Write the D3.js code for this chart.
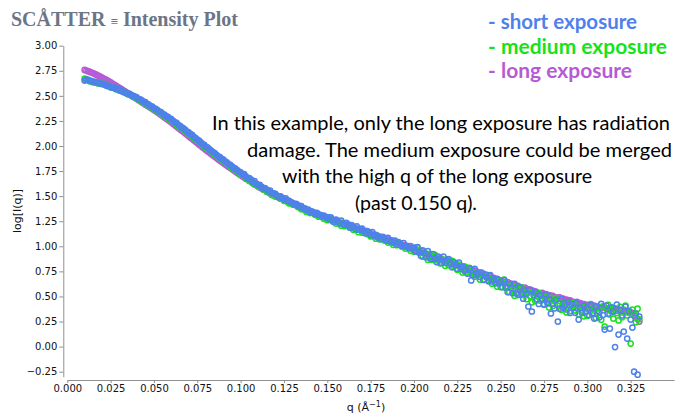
<!DOCTYPE html>
<html><head><meta charset="utf-8">
<script src="https://cdn.jsdelivr.net/npm/d3@7"></script>
<style>body{margin:0;background:#fff}</style>
</head><body>
<svg id="chart" width="680" height="420"></svg>
<script>
const qValues = [
0.010,0.011,0.012,0.013,0.014,0.015,0.016,0.017,0.018,0.019,
0.020,0.021,0.022,0.023,0.024,0.025,0.026,0.027,0.028,0.029,
0.030,0.031,0.032,0.033,0.034,0.035,0.036,0.037,0.038,0.039,
0.040,0.041,0.042,0.043,0.044,0.045,0.046,0.047,0.048,0.049,
0.050,0.051,0.052,0.053,0.054,0.055,0.056,0.057,0.058,0.059,
0.060,0.061,0.062,0.063,0.064,0.065,0.066,0.067,0.068,0.069,
0.070,0.071,0.072,0.073,0.074,0.075,0.076,0.077,0.078,0.079,
0.080,0.081,0.082,0.083,0.084,0.085,0.086,0.087,0.088,0.089,
0.090,0.091,0.092,0.093,0.094,0.095,0.096,0.097,0.098,0.099,
0.100,0.101,0.102,0.103,0.104,0.105,0.106,0.107,0.108,0.109,
0.110,0.111,0.112,0.113,0.114,0.115,0.116,0.117,0.118,0.119,
0.120,0.121,0.122,0.123,0.124,0.125,0.126,0.127,0.128,0.129,
0.130,0.131,0.132,0.133,0.134,0.135,0.136,0.137,0.138,0.139,
0.140,0.141,0.142,0.143,0.144,0.145,0.146,0.147,0.148,0.149,
0.150,0.151,0.152,0.153,0.154,0.155,0.156,0.157,0.158,0.159,
0.160,0.161,0.162,0.163,0.164,0.165,0.166,0.167,0.168,0.169,
0.170,0.171,0.172,0.173,0.174,0.175,0.176,0.177,0.178,0.179,
0.180,0.181,0.182,0.183,0.184,0.185,0.186,0.187,0.188,0.189,
0.190,0.191,0.192,0.193,0.194,0.195,0.196,0.197,0.198,0.199,
0.200,0.201,0.202,0.203,0.204,0.205,0.206,0.207,0.208,0.209,
0.210,0.211,0.212,0.213,0.214,0.215,0.216,0.217,0.218,0.219,
0.220,0.221,0.222,0.223,0.224,0.225,0.226,0.227,0.228,0.229,
0.230,0.231,0.232,0.233,0.234,0.235,0.236,0.237,0.238,0.239,
0.240,0.241,0.242,0.243,0.244,0.245,0.246,0.247,0.248,0.249,
0.250,0.251,0.252,0.253,0.254,0.255,0.256,0.257,0.258,0.259,
0.260,0.261,0.262,0.263,0.264,0.265,0.266,0.267,0.268,0.269,
0.270,0.271,0.272,0.273,0.274,0.275,0.276,0.277,0.278,0.279,
0.280,0.281,0.282,0.283,0.284,0.285,0.286,0.287,0.288,0.289,
0.290,0.291,0.292,0.293,0.294,0.295,0.296,0.297,0.298,0.299,
0.300,0.301,0.302,0.303,0.304,0.305,0.306,0.307,0.308,0.309,
0.310,0.311,0.312,0.313,0.314,0.315,0.316,0.317,0.318,0.319,
0.320,0.321,0.322,0.323,0.324,0.325,0.326,0.327,0.328,0.329,0.330];

const shortExposure = [
2.652,2.661,2.659,2.652,2.646,2.643,2.637,2.632,2.630,2.622,
2.618,2.618,2.607,2.599,2.598,2.590,2.582,2.582,2.570,2.567,
2.563,2.552,2.541,2.540,2.531,2.520,2.519,2.506,2.501,2.491,
2.484,2.471,2.466,2.454,2.440,2.437,2.420,2.413,2.399,2.394,
2.376,2.371,2.357,2.343,2.338,2.321,2.312,2.298,2.291,2.276,
2.267,2.252,2.236,2.230,2.211,2.201,2.185,2.177,2.160,2.144,
2.135,2.118,2.111,2.091,2.080,2.063,2.054,2.036,2.019,2.011,
1.992,1.985,1.966,1.955,1.939,1.930,1.913,1.896,1.889,1.873,
1.864,1.846,1.836,1.820,1.813,1.796,1.781,1.774,1.760,1.744,
1.738,1.718,1.719,1.697,1.678,1.681,1.664,1.644,1.649,1.623,
1.610,1.613,1.593,1.576,1.581,1.566,1.548,1.555,1.531,1.528,
1.523,1.505,1.490,1.497,1.484,1.468,1.477,1.455,1.454,1.438,
1.433,1.417,1.424,1.410,1.394,1.402,1.380,1.378,1.362,1.366,
1.341,1.349,1.338,1.323,1.334,1.313,1.314,1.299,1.306,1.289,
1.291,1.269,1.289,1.263,1.243,1.267,1.251,1.229,1.257,1.223,
1.215,1.234,1.208,1.187,1.211,1.194,1.172,1.199,1.165,1.172,
1.176,1.149,1.129,1.152,1.136,1.113,1.141,1.106,1.114,1.091,
1.091,1.071,1.095,1.079,1.057,1.085,1.051,1.059,1.037,1.057,
1.017,1.041,1.025,1.003,1.031,0.997,1.005,0.983,1.003,0.977,
0.987,0.947,0.991,0.943,0.907,0.959,0.931,0.891,0.951,0.887,
0.875,0.922,0.876,0.843,0.897,0.872,0.834,0.897,0.835,0.858,
0.872,0.825,0.790,0.843,0.816,0.777,0.838,0.775,0.796,0.757,
0.762,0.727,0.780,0.660,0.714,0.775,0.712,0.733,0.694,0.739,
0.664,0.717,0.690,0.651,0.712,0.649,0.670,0.631,0.676,0.629,
0.648,0.592,0.662,0.594,0.544,0.626,0.588,0.532,0.626,0.534,
0.520,0.592,0.526,0.478,0.562,0.526,0.400,0.568,0.350,0.514,
0.538,0.473,0.426,0.511,0.476,0.423,0.520,0.431,0.468,0.330,
0.428,0.381,0.466,0.250,0.378,0.475,0.386,0.423,0.370,0.443,
0.336,0.422,0.389,0.337,0.436,0.270,0.387,0.335,0.410,0.346,
0.379,0.314,0.417,0.336,0.279,0.398,0.357,0.292,0.427,0.314,
0.170,0.409,0.327,0.180,0.391,0.349,-0.005,0.420,0.120,0.365,
0.310,0.150,0.400,0.080,0.352,0.270,0.190,-0.250,0.330,-0.280,0.300];

const mediumExposure = [
2.672,2.664,2.657,2.645,2.642,2.635,2.636,2.630,2.622,2.626,
2.618,2.617,2.612,2.602,2.596,2.587,2.587,2.578,2.568,2.569,
2.554,2.551,2.545,2.533,2.527,2.516,2.513,2.504,2.492,2.492,
2.473,2.467,2.458,2.443,2.433,2.420,2.414,2.402,2.387,2.384,
2.368,2.361,2.351,2.335,2.324,2.310,2.303,2.290,2.274,2.270,
2.253,2.244,2.233,2.215,2.203,2.187,2.179,2.164,2.147,2.141,
2.123,2.113,2.101,2.082,2.069,2.052,2.043,2.027,2.009,2.002,
1.983,1.973,1.962,1.943,1.931,1.914,1.906,1.890,1.873,1.866,
1.848,1.840,1.829,1.811,1.800,1.784,1.777,1.762,1.746,1.740,
1.716,1.716,1.710,1.683,1.676,1.653,1.657,1.638,1.615,1.623,
1.596,1.598,1.594,1.569,1.564,1.543,1.549,1.532,1.511,1.521,
1.496,1.500,1.498,1.475,1.472,1.453,1.461,1.446,1.427,1.439,
1.416,1.419,1.417,1.393,1.390,1.370,1.378,1.362,1.343,1.354,
1.331,1.336,1.336,1.314,1.313,1.295,1.305,1.291,1.274,1.287,
1.261,1.275,1.279,1.249,1.251,1.227,1.247,1.229,1.205,1.233,
1.201,1.214,1.218,1.187,1.189,1.164,1.184,1.165,1.141,1.168,
1.136,1.149,1.153,1.122,1.124,1.099,1.119,1.100,1.076,1.103,
1.071,1.085,1.089,1.059,1.061,1.037,1.057,1.039,1.015,1.043,
1.011,1.025,1.029,0.999,1.001,0.977,0.997,0.979,0.955,0.983,
0.945,0.977,0.989,0.933,0.941,0.897,0.941,0.909,0.865,0.925,
0.865,0.900,0.914,0.861,0.871,0.830,0.876,0.847,0.805,0.868,
0.810,0.843,0.856,0.801,0.810,0.767,0.812,0.781,0.738,0.799,
0.740,0.773,0.786,0.731,0.740,0.697,0.742,0.711,0.668,0.729,
0.670,0.703,0.716,0.661,0.670,0.627,0.672,0.641,0.598,0.659,
0.594,0.646,0.668,0.588,0.604,0.542,0.612,0.568,0.506,0.600,
0.514,0.568,0.592,0.514,0.532,0.472,0.544,0.502,0.442,0.538,
0.454,0.509,0.534,0.457,0.476,0.417,0.490,0.449,0.390,0.487,
0.404,0.459,0.484,0.407,0.426,0.367,0.440,0.399,0.340,0.437,
0.354,0.410,0.437,0.361,0.382,0.324,0.399,0.359,0.302,0.400,
0.307,0.386,0.425,0.328,0.359,0.286,0.389,0.340,0.267,0.402,
0.200,0.377,0.416,0.320,0.351,0.279,0.382,0.334,0.261,0.397,
0.292,0.370,0.408,0.310,0.340,0.030,0.368,0.318,0.244,0.378,0.272];

const longExposure = [
2.758,2.752,2.746,2.739,2.732,2.725,2.717,2.709,2.700,2.691,
2.682,2.673,2.664,2.654,2.644,2.634,2.623,2.612,2.601,2.589,
2.580,2.569,2.558,2.547,2.536,2.525,2.514,2.503,2.492,2.481,
2.470,2.459,2.448,2.437,2.426,2.415,2.404,2.393,2.382,2.371,
2.360,2.348,2.336,2.323,2.311,2.299,2.286,2.274,2.262,2.249,
2.237,2.223,2.209,2.195,2.182,2.168,2.154,2.141,2.127,2.114,
2.100,2.086,2.072,2.058,2.044,2.030,2.016,2.002,1.988,1.974,
1.960,1.947,1.934,1.921,1.908,1.895,1.882,1.869,1.856,1.843,
1.830,1.818,1.806,1.794,1.782,1.770,1.758,1.746,1.734,1.722,
1.712,1.698,1.688,1.674,1.668,1.653,1.645,1.628,1.621,1.609,
1.600,1.587,1.579,1.567,1.563,1.549,1.543,1.527,1.523,1.512,
1.505,1.494,1.487,1.477,1.475,1.463,1.458,1.444,1.441,1.432,
1.427,1.416,1.409,1.399,1.396,1.384,1.379,1.365,1.362,1.353,
1.347,1.338,1.332,1.324,1.322,1.312,1.308,1.296,1.294,1.287,
1.282,1.273,1.268,1.261,1.260,1.250,1.247,1.235,1.235,1.228,
1.224,1.215,1.209,1.201,1.199,1.189,1.186,1.173,1.172,1.164,
1.160,1.151,1.145,1.137,1.136,1.126,1.122,1.110,1.109,1.101,
1.097,1.088,1.083,1.075,1.074,1.064,1.061,1.049,1.048,1.041,
1.037,1.028,1.022,1.014,1.013,1.002,0.999,0.987,0.986,0.978,
0.978,0.961,0.960,0.945,0.955,0.937,0.937,0.914,0.922,0.912,
0.911,0.895,0.894,0.880,0.891,0.873,0.874,0.852,0.861,0.851,
0.851,0.835,0.834,0.820,0.831,0.813,0.814,0.792,0.801,0.791,
0.791,0.775,0.773,0.759,0.769,0.751,0.751,0.729,0.737,0.727,
0.726,0.710,0.708,0.694,0.704,0.686,0.686,0.664,0.672,0.662,
0.661,0.646,0.645,0.632,0.643,0.626,0.627,0.606,0.615,0.606,
0.606,0.591,0.590,0.577,0.588,0.571,0.572,0.551,0.560,0.551,
0.551,0.537,0.537,0.525,0.537,0.521,0.523,0.503,0.513,0.505,
0.506,0.492,0.492,0.480,0.492,0.476,0.478,0.458,0.468,0.460,
0.461,0.447,0.447,0.435,0.447,0.431,0.433,0.413,0.423,0.415,
0.416,0.404,0.406,0.396,0.410,0.396,0.400,0.382,0.394,0.388,
0.391,0.379,0.381,0.371,0.385,0.371,0.375,0.357,0.369,0.363,
0.366,0.353,0.355,0.343,0.356,0.338,0.337,0.309,0.304,0.275,0.250];

const xTicks = [0, 0.025, 0.05, 0.075, 0.1, 0.125, 0.15, 0.175, 0.2, 0.225, 0.25, 0.275, 0.3, 0.325];
const yTicks = [-0.25, 0, 0.25, 0.5, 0.75, 1, 1.25, 1.5, 1.75, 2, 2.25, 2.5, 2.75, 3];
const seriesNames = ["short exposure", "medium exposure", "long exposure"];
const annotationLines = [
  "In this example, only the long exposure has radiation",
  "damage. The medium exposure could be merged",
  "with the high q of the long exposure",
  "(past 0.150 q)."
];

const colors = {"short exposure": "#4f80ec", "medium exposure": "#17e317", "long exposure": "#b65ad6"};
const seriesValues = {"short exposure": shortExposure, "medium exposure": mediumExposure, "long exposure": longExposure};

const svg = d3.select("#chart");
const x = d3.scaleLinear().domain([0, 0.35]).range([67.3, 674]);
const y = d3.scaleLinear().domain([-0.3, 3.0]).range([376.7, 45.7]);

// title
const title = svg.append("text").attr("x", 11).attr("y", 26)
  .attr("font-family", "'Liberation Serif', 'DejaVu Serif', serif")
  .attr("font-weight", "bold").attr("font-size", 20).attr("fill", "#6c7586");
title.append("tspan").text("SCÅTTER ");
title.append("tspan").attr("font-size", 13).text("≡");
title.append("tspan").text(" Intensity Plot");

// axes
const axisColor = "#8f8f8f";
const tickFont = "'DejaVu Sans', Verdana, sans-serif";
const yAxis = svg.append("g").attr("transform", "translate(63.3,0)")
  .call(d3.axisLeft(y).tickValues(yTicks).tickFormat(d3.format(".2f")).tickSize(4).tickSizeOuter(0).tickPadding(2));
const xAxis = svg.append("g").attr("transform", "translate(0,380)")
  .call(d3.axisBottom(x).tickValues(xTicks).tickFormat(d3.format(".3f")).tickSize(3).tickSizeOuter(0).tickPadding(2));
[yAxis, xAxis].forEach(g => {
  g.select(".domain").attr("stroke", axisColor);
  g.selectAll(".tick line").attr("stroke", axisColor);
  g.selectAll(".tick text").attr("fill", "#111").attr("font-family", tickFont).attr("font-size", 10);
});

svg.append("text").attr("transform", "translate(21,211) rotate(-90)")
  .attr("text-anchor", "middle").attr("font-family", tickFont).attr("font-size", 11).attr("fill", "#111")
  .text("log[I(q)]");
const xl = svg.append("text").attr("x", 366).attr("y", 411).attr("text-anchor", "middle")
  .attr("font-family", tickFont).attr("font-size", 11).attr("fill", "#111");
xl.append("tspan").text("q (Å");
xl.append("tspan").attr("font-size", 8).attr("dy", -4).text("−1");
xl.append("tspan").attr("dy", 4).text(")");

// scatter points: long below, then medium, then short on top
const drawOrder = ["long exposure", "medium exposure", "short exposure"];
drawOrder.forEach(name => {
  const vals = seriesValues[name];
  svg.append("g").selectAll("circle").data(qValues.map((q, i) => [q, vals[i]]))
    .join("circle")
    .attr("cx", d => x(d[0])).attr("cy", d => y(d[1])).attr("r", 2.6)
    .attr("fill", "none").attr("stroke", colors[name]).attr("stroke-width", 1.5);
});

// fit a text to a target width: shrink the font when its natural width is larger
function fitText(sel, baseSize, target) {
  sel.attr("font-size", baseSize);
  const w = sel.node().getComputedTextLength();
  if (w > target) sel.attr("font-size", baseSize * target / w);
  sel.attr("textLength", target).attr("lengthAdjust", "spacingAndGlyphs");
}

// legend
const legendFont = "Lato, 'Open Sans', sans-serif";
const legendY = [29, 54, 78];
const legendW = [149, 179, 144];
seriesNames.forEach((name, i) => {
  const t = svg.append("text").attr("x", 488).attr("y", legendY[i])
    .attr("font-family", legendFont).attr("font-weight", "bold")
    .attr("fill", colors[name])
    .text("- " + name);
  fitText(t, 20, legendW[i]);
});

// annotation
const annX = [212, 247, 282, 355];
const annW = [458, 425, 310, 122];
const annY = [130, 156.5, 183, 209.5];
annotationLines.forEach((s, i) => {
  const t = svg.append("text").attr("x", annX[i]).attr("y", annY[i])
    .attr("font-family", legendFont).attr("fill", "#000")
    .text(s);
  fitText(t, 21, annW[i]);
});
</script>
</body></html>
